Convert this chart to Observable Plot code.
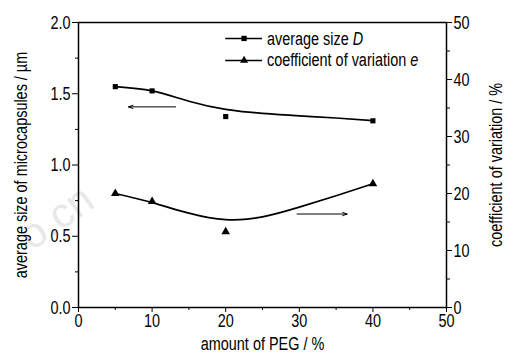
<!DOCTYPE html>
<html>
<head>
<meta charset="utf-8">
<script src="https://cdn.jsdelivr.net/npm/d3@7"></script>
<script src="https://cdn.jsdelivr.net/npm/@observablehq/plot@0.6"></script>
<style>
  html, body { margin: 0; padding: 0; background: #fff; }
  #chart { position: relative; width: 506px; height: 358px; }
</style>
</head>
<body>
<div id="chart"></div>
<script>
// ---- data ----
const pegAmount = [5, 10, 20, 40];                 // amount of PEG / %
const avgSize = [1.55, 1.52, 1.34, 1.31];          // average size D / µm (left axis)
const cvPercent = [20.0, 18.6, 13.3, 21.7];        // coefficient of variation e / % (right axis)

// fitted curves as drawn in the reference (read at these x positions)
const fitX = [5, 10, 15, 20, 25, 30, 35, 40];
const sizeFit = [1.55, 1.52, 1.447, 1.39, 1.362, 1.345, 1.330, 1.312];
const cvFit = [20.0, 18.4, 16.55, 15.4, 15.9, 17.6, 19.6, 21.7];

// tick values
const xTicks = [0, 10, 20, 30, 40, 50];
const xMinor = [5, 15, 25, 35, 45];
const yLeftTicks = [0, 0.5, 1.0, 1.5, 2.0];
const yLeftMinor = [0.25, 0.75, 1.25, 1.75];
const yRightTicks = [0, 10, 20, 30, 40, 50];
const yRightMinor = [5, 15, 25, 35, 45];
const rightPerLeft = 25; // 50 % on the right == 2.0 µm on the left

// annotation arrows (data coordinates)
const arrowSize = {x1: 13.2, x2: 6.8, y: 1.408};
const arrowCv = {x1: 29.7, x2: 36.5, y: 16.4}; // right-axis units

// legend
const legendLabels = ["average size D", "coefficient of variation e"];
const legendY = [1.888, 1.734];
const legendLineX = [20.0, 25.0];
const legendMarkX = 22.5;
const legendTextX = 25.6;

const axisTitles = {
  x: "amount of PEG / %",
  yLeft: "average size of microcapsules / \u00b5m",
  yRight: "coefficient of variation / %"
};
const watermark = "o.cn";

// ---- build tables ----
const sizePts = pegAmount.map((x, i) => ({x, y: avgSize[i]}));
const cvPts = pegAmount.map((x, i) => ({x, y: cvPercent[i] / rightPerLeft}));
const sizeCurve = fitX.map((x, i) => ({x, y: sizeFit[i]}));
const cvCurve = fitX.map((x, i) => ({x, y: cvFit[i] / rightPerLeft}));
const arrows = [
  {x1: arrowSize.x1, x2: arrowSize.x2, y: arrowSize.y},
  {x1: arrowCv.x1, x2: arrowCv.x2, y: arrowCv.y / rightPerLeft}
];
const legendRows = legendLabels.map((t, i) => ({t, y: legendY[i], sym: i === 0 ? "square" : "triangle"}));

const fmt1 = d3.format(".1f");
const FS = 19;

const chart = Plot.plot({
  width: 506,
  height: 358,
  marginLeft: 78,
  marginRight: 60,
  marginTop: 22,
  marginBottom: 51,
  style: {fontFamily: "'Liberation Sans', Arial, sans-serif", fontSize: FS + "px", color: "#000", background: "#fff"},
  x: {domain: [0, 50]},
  y: {domain: [0, 2]},
  marks: [
    // faint watermark
    Plot.text([watermark], {text: d => d, frameAnchor: "bottom-left", textAnchor: "middle", lineAnchor: "middle", dx: -22, dy: -90, rotate: -35, fontSize: 42, fill: "#e8e8e8"}),
    // minor ticks
    Plot.axisX({ticks: xMinor, tickSize: 3, tickFormat: () => "", anchor: "bottom", label: null}),
    Plot.axisY({ticks: yLeftMinor, tickSize: 3, tickFormat: () => "", anchor: "left", label: null}),
    Plot.axisY({ticks: yRightMinor.map(v => v / rightPerLeft), tickSize: 3, tickFormat: () => "", anchor: "right", label: null}),
    // major ticks
    Plot.axisX({ticks: xTicks, tickSize: 5, tickPadding: 1, tickFormat: d => String(d), anchor: "bottom", label: null}),
    Plot.axisY({ticks: yLeftTicks, tickSize: 6, tickPadding: 2, tickFormat: fmt1, anchor: "left", label: null}),
    Plot.axisY({ticks: yRightTicks.map(v => v / rightPerLeft), tickSize: 5, tickPadding: 2, tickFormat: d => String(Math.round(d * rightPerLeft)), anchor: "right", label: null}),
    Plot.frame({stroke: "#000", strokeWidth: 1.5}),
    // curves
    Plot.line(sizeCurve, {x: "x", y: "y", curve: "natural", stroke: "#000", strokeWidth: 1.7}),
    Plot.line(cvCurve, {x: "x", y: "y", curve: "natural", stroke: "#000", strokeWidth: 1.7}),
    // points
    Plot.dot(sizePts, {x: "x", y: "y", symbol: "square", r: 2.9, fill: "#000"}),
    Plot.dot(cvPts, {x: "x", y: "y", symbol: "triangle", r: 3.2, fill: "#000"}),
    // arrows
    Plot.arrow(arrows, {x1: "x1", x2: "x2", y1: "y", y2: "y", stroke: "#000", strokeWidth: 1, headLength: 7, headAngle: 40}),
    // legend
    Plot.ruleY(legendRows, {y: "y", x1: legendLineX[0], x2: legendLineX[1], stroke: "#000", strokeWidth: 1.5}),
    Plot.dot(legendRows, {x: () => legendMarkX, y: "y", symbol: "sym", r: 3, fill: "#000"}),
    Plot.text(legendRows, {x: () => legendTextX, y: "y", text: "t", textAnchor: "start", fontSize: FS}),
    // axis titles
    Plot.text([axisTitles.x], {text: d => d, frameAnchor: "bottom", textAnchor: "middle", lineAnchor: "middle", dy: 36, fontSize: FS}),
    Plot.text([axisTitles.yLeft], {text: d => d, frameAnchor: "left", textAnchor: "middle", lineAnchor: "middle", dx: -58, rotate: -90, fontSize: FS}),
    Plot.text([axisTitles.yRight], {text: d => d, frameAnchor: "right", textAnchor: "middle", lineAnchor: "middle", dx: 49, rotate: -90, fontSize: FS})
  ]
});

// italicise the symbols in the legend
chart.querySelectorAll("text").forEach(t => {
  const s = t.textContent;
  legendLabels.forEach(lbl => {
    if (s === lbl) {
      const head = lbl.slice(0, -1);
      const tail = lbl.slice(-1);
      t.textContent = "";
      const a = document.createElementNS("http://www.w3.org/2000/svg", "tspan");
      a.textContent = head;
      const b = document.createElementNS("http://www.w3.org/2000/svg", "tspan");
      b.textContent = tail;
      b.setAttribute("font-style", "italic");
      t.appendChild(a);
      t.appendChild(b);
    }
  });
});

// condense the glyphs horizontally (the reference uses a narrow sans face)
const narrow = 0.76;
chart.querySelectorAll("text").forEach(t => {
  if (t.textContent === watermark) return;
  const xa = t.getAttribute("x");
  if (xa !== null && /^-?[\d.]+$/.test(xa)) t.setAttribute("x", (+xa) / narrow);
  const tr = t.getAttribute("transform") || "";
  t.setAttribute("transform", `${tr} scale(${narrow},1)`.trim());
});

document.getElementById("chart").appendChild(chart);
</script>
</body>
</html>
